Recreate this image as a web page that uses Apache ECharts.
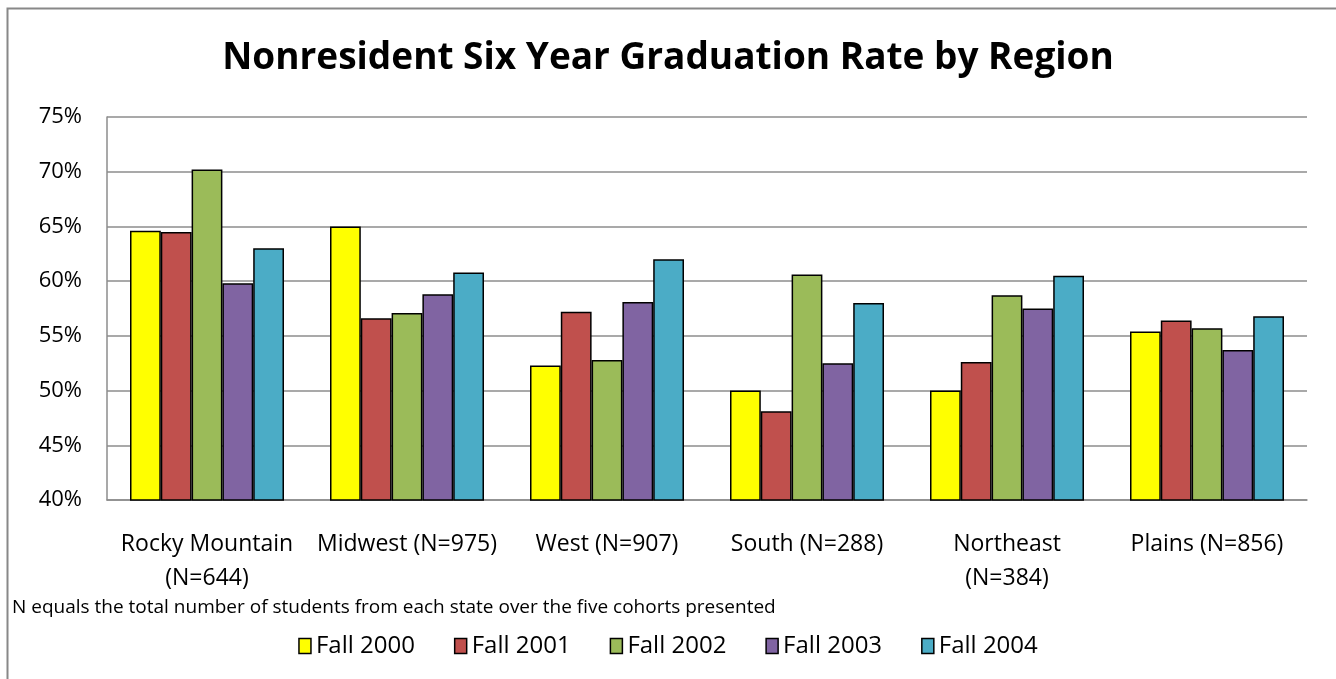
<!DOCTYPE html>
<html>
<head>
<meta charset="utf-8">
<style>
html,body{margin:0;padding:0;background:#fff;}
#chart{width:1336px;height:679px;}
</style>
<script src="https://cdn.jsdelivr.net/npm/echarts@6/dist/echarts.min.js"></script>
</head>
<body>
<div id="chart"></div>
<script>
var categories = ['Rocky Mountain\n(N=644)', 'Midwest (N=975)', 'West (N=907)', 'South (N=288)', 'Northeast\n(N=384)', 'Plains (N=856)'];
var seriesNames = ['Fall 2000', 'Fall 2001', 'Fall 2002', 'Fall 2003', 'Fall 2004'];
var fall2000 = [64.6, 65.0, 52.3, 50.0, 50.0, 55.4];
var fall2001 = [64.5, 56.6, 57.2, 48.1, 52.6, 56.4];
var fall2002 = [70.2, 57.1, 52.8, 60.6, 58.7, 55.7];
var fall2003 = [59.8, 58.8, 58.1, 52.5, 57.5, 53.7];
var fall2004 = [63.0, 60.8, 62.0, 58.0, 60.5, 56.8];
var colors = ['#FFFF00', '#C0504D', '#9BBB59', '#8064A2', '#4BACC6'];
var titleText = 'Nonresident Six Year Graduation Rate by Region';
var footnote = 'N equals the total number of students from each state over the five cohorts presented';

var values = [fall2000, fall2001, fall2002, fall2003, fall2004];
var FONT = '"Open Sans", sans-serif';
var chart = echarts.init(document.getElementById('chart'), null, {renderer: 'canvas'});
var series = seriesNames.map(function (n, i) {
  return {
    name: n, type: 'bar', data: values[i],
    barGap: '0%', barCategoryGap: '23%',
    itemStyle: {color: colors[i], borderColor: '#000', borderWidth: 1.5}
  };
});
chart.setOption({
  animation: false,
  backgroundColor: '#fff',
  title: {
    text: titleText, left: 'center', top: 35,
    textStyle: {fontFamily: FONT, fontWeight: 'bold', fontSize: 37, color: '#000'}
  },
  legend: {
    data: seriesNames, left: 'center', top: 629,
    icon: 'rect', itemWidth: 12, itemHeight: 15, itemGap: 39,
    itemStyle: {borderColor: '#000', borderWidth: 1.5},
    textStyle: {fontFamily: FONT, fontSize: 24, color: '#000'}
  },
  grid: {left: 107, right: 29, top: 117, bottom: 179, containLabel: false},
  xAxis: {
    type: 'category', data: categories,
    axisTick: {show: false},
    axisLine: {lineStyle: {color: '#8c8c8c', width: 1.5}},
    axisLabel: {fontFamily: FONT, fontSize: 23, color: '#000', margin: 27, lineHeight: 34, interval: 0}
  },
  yAxis: {
    type: 'value', min: 40, max: 75, interval: 5,
    axisLine: {show: true, lineStyle: {color: '#8c8c8c', width: 1.5}},
    axisTick: {show: false},
    splitLine: {lineStyle: {color: '#8c8c8c', width: 1.5}},
    axisLabel: {formatter: '{value}%', fontFamily: FONT, fontSize: 22, color: '#000', margin: 25}
  },
  graphic: [
    {type: 'rect', silent: true, z: -10, shape: {x: 7.5, y: 8.5, width: 1400, height: 800},
     style: {fill: 'none', stroke: '#888', lineWidth: 2}},
    {type: 'text', left: 12, top: 598,
     style: {text: footnote, font: '19px "Open Sans", sans-serif', fill: '#000'}}
  ],
  series: series
});
</script>
</body>
</html>
